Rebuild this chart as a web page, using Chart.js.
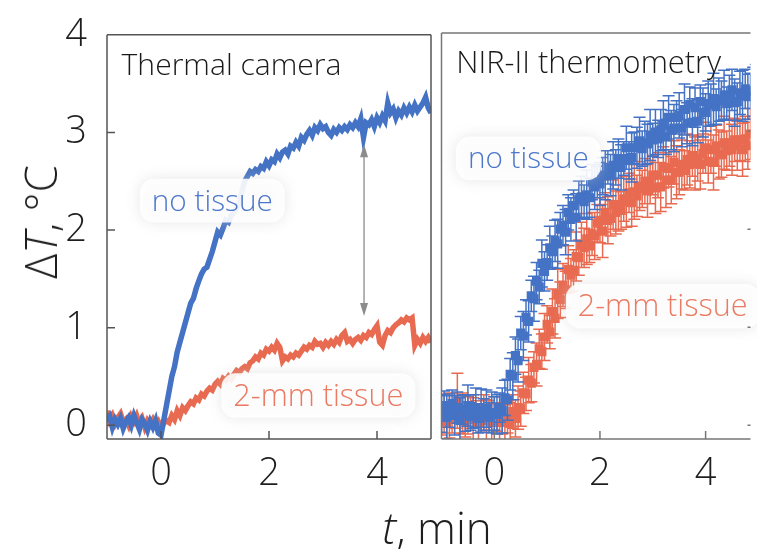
<!DOCTYPE html>
<html>
<head>
<meta charset="utf-8">
<script src="https://cdn.jsdelivr.net/npm/chart.js@4.4.1/dist/chart.umd.min.js"></script>
<style>
  html, body { margin: 0; padding: 0; background: #fff; }
  body { width: 757px; height: 549px; position: relative; overflow: hidden;
         font-family: 'Open Sans', 'Noto Sans', sans-serif; font-weight: 300; color: #1e1e1e; }
  canvas { position: absolute; top: 0; }
  #thermal { left: 0; }
  #nir { left: 435px; }
  .axis-title { position: absolute; white-space: nowrap; font-size: 44px; line-height: 1; }
  #ytitle { left: 40px; top: 222px; transform: translate(-50%, -50%) rotate(-90deg); }
  #xtitle { left: 437px; top: 527px; transform: translate(-50%, -50%); }
</style>
</head>
<body>
<canvas id="thermal" width="440" height="549"></canvas>
<canvas id="nir" width="322" height="549"></canvas>
<div class="axis-title" id="ytitle">Δ<i>T</i>, °C</div>
<div class="axis-title" id="xtitle"><i>t</i>, min</div>
<script>
// time axis, minutes (shared by both panels)
const times = [
  -1.00, -0.95, -0.90, -0.85, -0.80, -0.75, -0.70, -0.65, -0.60, -0.55,
  -0.50, -0.45, -0.40, -0.35, -0.30, -0.25, -0.20, -0.15, -0.10, -0.05,
  0.00, 0.05, 0.10, 0.15, 0.20, 0.25, 0.30, 0.35, 0.40, 0.45,
  0.50, 0.55, 0.60, 0.65, 0.70, 0.75, 0.80, 0.85, 0.90, 0.95,
  1.00, 1.05, 1.10, 1.15, 1.20, 1.25, 1.30, 1.35, 1.40, 1.45,
  1.50, 1.55, 1.60, 1.65, 1.70, 1.75, 1.80, 1.85, 1.90, 1.95,
  2.00, 2.05, 2.10, 2.15, 2.20, 2.25, 2.30, 2.35, 2.40, 2.45,
  2.50, 2.55, 2.60, 2.65, 2.70, 2.75, 2.80, 2.85, 2.90, 2.95,
  3.00, 3.05, 3.10, 3.15, 3.20, 3.25, 3.30, 3.35, 3.40, 3.45,
  3.50, 3.55, 3.60, 3.65, 3.70, 3.75, 3.80, 3.85, 3.90, 3.95,
  4.00, 4.05, 4.10, 4.15, 4.20, 4.25, 4.30, 4.35, 4.40, 4.45,
  4.50, 4.55, 4.60, 4.65, 4.70, 4.75, 4.80, 4.85, 4.90, 4.95,
  5.00
];

// thermal camera, no tissue
const thermalNoTissue = [
  0.05, 0.09, -0.02, 0.06, 0.01, 0.07, -0.03, 0.04, 0.08, 0.00,
  0.10, 0.03, -0.04, 0.06, 0.02, -0.05, 0.04, -0.02, 0.05, -0.08,
  -0.10, 0.05, 0.20, 0.35, 0.50, 0.60, 0.75, 0.85, 0.95, 1.05,
  1.15, 1.25, 1.30, 1.40, 1.48, 1.55, 1.60, 1.62, 1.70, 1.78,
  1.88, 1.98, 1.95, 2.02, 2.10, 2.08, 2.15, 2.18, 2.22, 2.28,
  2.40, 2.50, 2.55, 2.60, 2.58, 2.62, 2.60, 2.65, 2.63, 2.70,
  2.66, 2.72, 2.70, 2.78, 2.74, 2.80, 2.82, 2.78, 2.86, 2.84,
  2.90, 2.86, 2.95, 2.92, 2.98, 3.02, 2.97, 3.05, 3.02, 3.08,
  3.04, 3.06, 3.00, 2.97, 3.03, 3.00, 3.05, 3.02, 3.06, 3.03,
  3.08, 3.05, 3.10, 3.06, 3.14, 2.95, 3.10, 3.08, 3.13, 3.06,
  3.15, 3.10, 3.17, 3.12, 3.30, 3.20, 3.24, 3.15, 3.22, 3.18,
  3.25, 3.20, 3.26, 3.21, 3.28, 3.22, 3.26, 3.30, 3.36, 3.25,
  3.20
];

// thermal camera, 2-mm tissue
const thermalTissue = [
  0.15, 0.05, 0.10, 0.02, 0.08, 0.12, 0.03, 0.06, 0.00, 0.09,
  0.04, 0.10, 0.02, 0.07, -0.02, 0.05, 0.01, 0.06, 0.00, 0.04,
  -0.02, 0.02, 0.05, 0.03, 0.10, 0.06, 0.15, 0.10, 0.18, 0.15,
  0.20, 0.24, 0.22, 0.28, 0.26, 0.32, 0.30, 0.35, 0.38, 0.36,
  0.42, 0.45, 0.42, 0.48, 0.46, 0.50, 0.47, 0.52, 0.56, 0.54,
  0.58, 0.60, 0.58, 0.64, 0.66, 0.70, 0.68, 0.74, 0.72, 0.78,
  0.76, 0.80, 0.77, 0.84, 0.80, 0.66, 0.70, 0.68, 0.72, 0.70,
  0.74, 0.72, 0.76, 0.80, 0.78, 0.82, 0.80, 0.86, 0.83, 0.84,
  0.80, 0.85, 0.82, 0.86, 0.83, 0.88, 0.85, 0.92, 0.95, 0.86,
  0.88, 0.84, 0.88, 0.90, 0.87, 0.92, 0.90, 0.95, 0.93, 0.98,
  1.02, 0.85, 0.82, 0.92, 0.97, 0.95, 1.00, 1.03, 1.05, 1.08,
  1.06, 1.10, 1.08, 1.10, 0.82, 0.88, 0.84, 0.90, 0.86, 0.90,
  0.85
];

// NIR-II thermometry, no tissue (mean and error)
const nirNoTissue = [
  0.12, 0.20, 0.08, 0.15, 0.22, 0.10, 0.18, 0.05, 0.16, 0.12,
  0.20, 0.09, 0.14, 0.18, 0.07, 0.15, 0.11, 0.17, 0.08, 0.13,
  0.12, 0.11, 0.18, 0.15, 0.28, 0.26, 0.52, 0.50, 0.71, 0.66,
  0.94, 0.91, 1.10, 1.06, 1.32, 1.29, 1.47, 1.41, 1.65, 1.57,
  1.66, 1.81, 1.77, 1.88, 1.85, 2.00, 2.04, 1.97, 2.17, 2.10,
  2.24, 2.12, 2.30, 2.33, 2.28, 2.35, 2.32, 2.48, 2.43, 2.48,
  2.46, 2.54, 2.55, 2.63, 2.55, 2.65, 2.63, 2.72, 2.63, 2.72,
  2.83, 2.70, 2.73, 2.83, 2.83, 2.90, 2.82, 2.88, 2.87, 2.96,
  2.91, 2.99, 2.92, 3.01, 3.06, 2.94, 3.14, 3.01, 3.03, 3.14,
  3.16, 3.03, 3.22, 3.08, 3.27, 3.09, 3.24, 3.10, 3.30, 3.19,
  3.19, 3.28, 3.27, 3.33, 3.25, 3.32, 3.31, 3.37, 3.28, 3.34,
  3.42, 3.29, 3.30, 3.39, 3.36, 3.43, 3.35, 3.41, 3.40, 3.47,
  3.43
];
const nirNoTissueErr = [
  0.19, 0.15, 0.22, 0.17, 0.14, 0.20, 0.16, 0.23, 0.15, 0.18,
  0.21, 0.14, 0.17, 0.20, 0.15, 0.22, 0.16, 0.19, 0.15, 0.21,
  0.17, 0.20, 0.15, 0.23, 0.18, 0.21, 0.16, 0.24, 0.19, 0.22,
  0.17, 0.25, 0.18, 0.21, 0.16, 0.23, 0.19, 0.17, 0.24, 0.20,
  0.18, 0.22, 0.16, 0.21, 0.25, 0.17, 0.20, 0.23, 0.18, 0.22,
  0.16, 0.24, 0.19, 0.21, 0.17, 0.25, 0.20, 0.18, 0.23, 0.16,
  0.22, 0.19, 0.25, 0.17, 0.21, 0.24, 0.18, 0.20, 0.23, 0.17,
  0.22, 0.19, 0.25, 0.16, 0.21, 0.24, 0.18, 0.22, 0.20, 0.26,
  0.17, 0.23, 0.19, 0.21, 0.25, 0.18, 0.22, 0.20, 0.24, 0.17,
  0.23, 0.19, 0.26, 0.21, 0.18, 0.24, 0.20, 0.22, 0.17, 0.25,
  0.19, 0.23, 0.21, 0.26, 0.18, 0.22, 0.20, 0.25, 0.17, 0.23,
  0.21, 0.24, 0.19, 0.22, 0.26, 0.20, 0.23, 0.18, 0.25, 0.21,
  0.22
];

// NIR-II thermometry, 2-mm tissue (mean and error)
const nirTissue = [
  0.05, 0.12, 0.02, 0.10, 0.06, 0.15, 0.25, 0.08, 0.12, 0.03,
  0.10, 0.14, 0.06, 0.11, 0.02, 0.09, 0.13, 0.05, 0.10, 0.03,
  0.12, 0.08, 0.03, 0.07, 0.03, 0.07, 0.02, 0.14, 0.07, 0.18,
  0.17, 0.33, 0.32, 0.46, 0.43, 0.59, 0.62, 0.78, 0.75, 0.90,
  1.03, 0.95, 1.16, 1.09, 1.34, 1.28, 1.43, 1.38, 1.59, 1.53,
  1.58, 1.72, 1.71, 1.84, 1.81, 1.90, 1.83, 1.95, 1.93, 2.06,
  2.09, 1.98, 2.17, 2.09, 2.11, 2.25, 2.17, 2.25, 2.19, 2.31,
  2.28, 2.37, 2.27, 2.38, 2.34, 2.44, 2.41, 2.49, 2.39, 2.48,
  2.55, 2.42, 2.55, 2.43, 2.63, 2.50, 2.62, 2.50, 2.68, 2.58,
  2.58, 2.66, 2.60, 2.71, 2.66, 2.75, 2.67, 2.72, 2.66, 2.77,
  2.83, 2.69, 2.81, 2.68, 2.85, 2.76, 2.76, 2.88, 2.80, 2.88,
  2.81, 2.91, 2.85, 2.91, 2.81, 2.92, 2.85, 2.97, 2.91, 2.97,
  2.94
];
const nirTissueErr = [
  0.15, 0.20, 0.17, 0.23, 0.14, 0.18, 0.28, 0.16, 0.21, 0.15,
  0.19, 0.17, 0.22, 0.14, 0.20, 0.16, 0.18, 0.21, 0.15, 0.19,
  0.17, 0.14, 0.20, 0.16, 0.18, 0.15, 0.21, 0.17, 0.19, 0.22,
  0.18, 0.21, 0.17, 0.23, 0.19, 0.16, 0.22, 0.20, 0.18, 0.24,
  0.19, 0.17, 0.23, 0.20, 0.25, 0.18, 0.22, 0.19, 0.24, 0.17,
  0.21, 0.25, 0.18, 0.23, 0.20, 0.26, 0.17, 0.22, 0.24, 0.19,
  0.23, 0.27, 0.20, 0.24, 0.18, 0.25, 0.22, 0.27, 0.19, 0.23,
  0.26, 0.20, 0.24, 0.28, 0.21, 0.25, 0.19, 0.23, 0.27, 0.22,
  0.20, 0.26, 0.23, 0.25, 0.21, 0.28, 0.19, 0.24, 0.22, 0.27,
  0.23, 0.25, 0.20, 0.26, 0.24, 0.21, 0.27, 0.23, 0.25, 0.20,
  0.26, 0.22, 0.24, 0.28, 0.21, 0.25, 0.23, 0.27, 0.20, 0.24,
  0.26, 0.22, 0.25, 0.21, 0.27, 0.23, 0.24, 0.26, 0.22, 0.25,
  0.23
];

const xTicks = [0, 2, 4];
const yTicks = [0, 1, 2, 3, 4];

const BLUE = '#4472C4';
const RED = '#E86A50';
const FONT = "'Open Sans', 'Noto Sans', sans-serif";

function points(values) {
  return times.map((t, i) => ({ x: t, y: values[i] }));
}

// size a font so the text spans the given width
function fitFont(ctx, text, width) {
  ctx.font = `300 100px ${FONT}`;
  return 100 * width / ctx.measureText(text).width;
}

// error bars are drawn right before their own points
const errorBars = {
  id: 'errorBars',
  beforeDatasetDraw(chart, args) {
    const ds = chart.data.datasets[args.index];
    if (!ds.errors) return;
    const { ctx, chartArea: a, scales: { x, y } } = chart;
    ctx.save();
    ctx.beginPath();
    ctx.rect(a.left, a.top, a.right - a.left, a.bottom - a.top);
    ctx.clip();
    ctx.strokeStyle = ds.borderColor;
    ctx.lineWidth = 1.5;
    ctx.beginPath();
    ds.data.forEach((p, i) => {
      const px = x.getPixelForValue(p.x);
      const top = y.getPixelForValue(p.y + ds.errors[i]);
      const bot = y.getPixelForValue(p.y - ds.errors[i]);
      ctx.moveTo(px, top); ctx.lineTo(px, bot);
      ctx.moveTo(px - 6, top); ctx.lineTo(px + 6, top);
      ctx.moveTo(px - 6, bot); ctx.lineTo(px + 6, bot);
    });
    ctx.stroke();
    ctx.restore();
  }
};

// panel title, curve labels (on a soft white patch) and the arrow
const panelText = {
  id: 'panelText',
  afterDatasetsDraw(chart, args, opts) {
    const { ctx, scales: { x, y } } = chart;
    ctx.save();
    (opts.items || []).forEach(it => {
      const px = x.getPixelForValue(it.t);
      const py = y.getPixelForValue(it.v);
      const size = fitFont(ctx, it.text, it.width);
      ctx.font = `300 ${size}px ${FONT}`;
      if (it.patch) {
        ctx.save();
        ctx.shadowColor = 'rgba(200,200,200,0.5)';
        ctx.shadowBlur = 14;
        ctx.fillStyle = 'rgba(255,255,255,0.88)';
        ctx.beginPath();
        ctx.roundRect(px - 12, py - size * 0.8 - 8, it.width + 24, size * 0.8 + 20, 14);
        ctx.fill();
        ctx.restore();
      }
      ctx.fillStyle = it.color;
      ctx.textBaseline = 'alphabetic';
      ctx.textAlign = 'left';
      ctx.fillText(it.text, px, py);
    });
    if (opts.arrow) {
      const ar = opts.arrow;
      const px = x.getPixelForValue(ar.t);
      const y0 = y.getPixelForValue(ar.from);
      const y1 = y.getPixelForValue(ar.to);
      ctx.strokeStyle = '#8c8c8c';
      ctx.fillStyle = '#8c8c8c';
      ctx.lineWidth = 1.3;
      ctx.beginPath();
      ctx.moveTo(px, y0 - 10); ctx.lineTo(px, y1 + 10);
      ctx.stroke();
      ctx.beginPath();
      ctx.moveTo(px, y1); ctx.lineTo(px - 4, y1 + 13); ctx.lineTo(px + 4, y1 + 13); ctx.closePath();
      ctx.moveTo(px, y0); ctx.lineTo(px - 4, y0 - 13); ctx.lineTo(px + 4, y0 - 13); ctx.closePath();
      ctx.fill();
    }
    ctx.restore();
  }
};

// box around the plot area with inward tick marks
const panelFrame = {
  id: 'panelFrame',
  afterDraw(chart, args, opts) {
    const { ctx, chartArea: a, scales: { x, y } } = chart;
    ctx.save();
    ctx.strokeStyle = opts.color;
    ctx.lineWidth = 1.5;
    ctx.beginPath();
    ctx.moveTo(a.left, a.top); ctx.lineTo(a.left, a.bottom);
    ctx.moveTo(a.left, a.top); ctx.lineTo(a.right, a.top);
    ctx.moveTo(a.left, a.bottom); ctx.lineTo(a.right, a.bottom);
    if (opts.closed) { ctx.moveTo(a.right, a.top); ctx.lineTo(a.right, a.bottom); }
    xTicks.forEach(v => {
      const px = x.getPixelForValue(v);
      ctx.moveTo(px, a.bottom); ctx.lineTo(px, a.bottom - 8);
    });
    yTicks.forEach(v => {
      const py = y.getPixelForValue(v);
      if (opts.leftTicks) { ctx.moveTo(a.left, py); ctx.lineTo(a.left + 8, py); }
      if (opts.rightTicks) { ctx.moveTo(a.right, py); ctx.lineTo(a.right - 3, py); }
    });
    ctx.stroke();
    ctx.restore();
  }
};

const tickFont = { family: FONT, size: 38, weight: '300' };

function xScale(min, max) {
  return {
    type: 'linear', min, max,
    afterBuildTicks: s => { s.ticks = xTicks.map(v => ({ value: v })); },
    afterFit: s => { s.height = 110; },
    grid: { display: false }, border: { display: false },
    ticks: { font: tickFont, color: '#1e1e1e', padding: 4 }
  };
}

function yScale(showLabels, width) {
  return {
    type: 'linear', min: -0.14, max: 4,
    afterBuildTicks: s => { s.ticks = yTicks.map(v => ({ value: v })); },
    afterFit: s => { s.width = width; },
    grid: { display: false }, border: { display: false },
    ticks: { display: showLabels, font: tickFont, color: '#1e1e1e', padding: 12 }
  };
}

const common = {
  responsive: false,
  animation: false,
  events: [],
  plugins: { legend: { display: false }, tooltip: { enabled: false } }
};

new Chart(document.getElementById('thermal'), {
  type: 'line',
  data: {
    datasets: [
      { data: points(thermalNoTissue), borderColor: BLUE, borderWidth: 5.5, pointRadius: 0, tension: 0 },
      { data: points(thermalTissue), borderColor: RED, borderWidth: 5.5, pointRadius: 0, tension: 0 }
    ]
  },
  options: {
    ...common,
    layout: { padding: { left: 0, right: 9, top: 33, bottom: 0 } },
    scales: { x: xScale(-1, 5), y: yScale(true, 107) },
    plugins: {
      ...common.plugins,
      panelText: {
        items: [
          { text: 'Thermal camera', t: -0.73, v: 3.59, width: 220, color: '#1a1a1a' },
          { text: 'no tissue', t: -0.17, v: 2.2, width: 121, color: '#4C77CB', patch: true },
          { text: '2-mm tissue', t: 1.34, v: 0.2, width: 170, color: '#EA7A62', patch: true }
        ],
        arrow: { t: 3.76, from: 1.12, to: 2.88 }
      },
      panelFrame: { color: '#555', closed: true, leftTicks: true }
    }
  },
  plugins: [panelText, panelFrame]
});

// dataset 0 is painted last, so the no-tissue band sits on top
new Chart(document.getElementById('nir'), {
  type: 'scatter',
  data: {
    datasets: [
      { data: points(nirNoTissue), errors: nirNoTissueErr, borderColor: BLUE, backgroundColor: BLUE,
        pointStyle: 'rect', pointRadius: 6.5, pointBorderWidth: 0 },
      { data: points(nirTissue), errors: nirTissueErr, borderColor: RED, backgroundColor: RED,
        pointStyle: 'rect', pointRadius: 6.5, pointBorderWidth: 0 }
    ]
  },
  options: {
    ...common,
    layout: { padding: { left: 0, right: 0, top: 33, bottom: 0 } },
    scales: { x: xScale(-1, 4.85), y: yScale(false, 5) },
    plugins: {
      ...common.plugins,
      panelText: {
        items: [
          { text: 'NIR-II thermometry', t: -0.72, v: 3.59, width: 265, color: '#1a1a1a' },
          { text: 'no tissue', t: -0.5, v: 2.62, width: 121, color: '#4C77CB', patch: true },
          { text: '2-mm tissue', t: 1.58, v: 1.11, width: 170, color: '#EA7A62', patch: true }
        ]
      },
      panelFrame: { color: '#777', closed: false, rightTicks: true }
    }
  },
  plugins: [errorBars, panelText, panelFrame]
});
</script>
</body>
</html>
